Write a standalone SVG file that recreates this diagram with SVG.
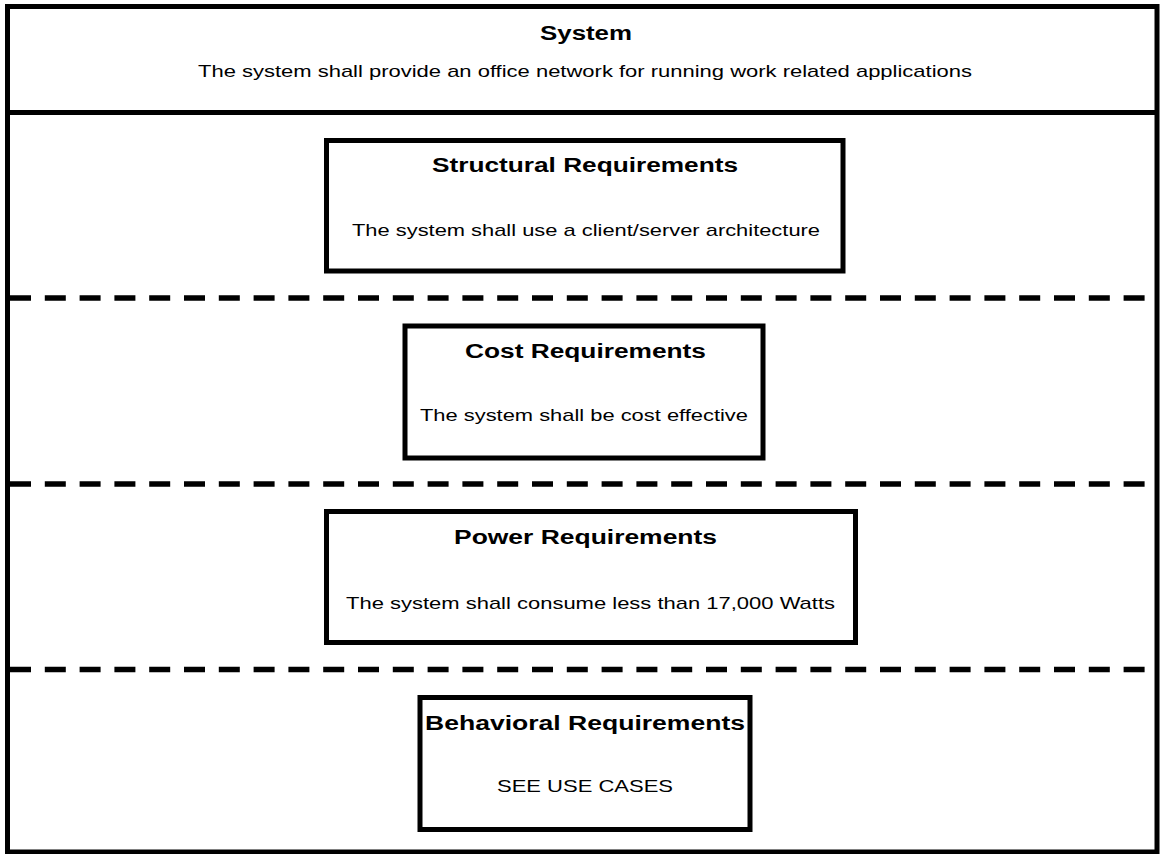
<svg xmlns="http://www.w3.org/2000/svg" width="1160" height="854" viewBox="0 0 1160 854">
<style>
  .frame { fill: #ffffff; stroke: #000000; stroke-width: 5; }
  .box { fill: #ffffff; stroke: #000000; stroke-width: 5; }
  .sep { stroke: #000000; stroke-width: 5; fill: none; }
  .dash { stroke: #000000; stroke-width: 5.5; fill: none; stroke-dasharray: 21 13.8; }
  .title { font-family: "Liberation Sans", Arial, sans-serif; font-weight: bold; font-size: 20px; fill: #000000; text-anchor: middle; }
  .body { font-family: "Liberation Sans", Arial, sans-serif; font-size: 17px; fill: #000000; text-anchor: middle; }
</style>
<rect x="0" y="0" width="1160" height="854" fill="#ffffff"/>
<g id="system">
  <rect class="frame" x="7.5" y="6.5" width="1149.5" height="845.5"/>
  <line class="sep" x1="7.5" y1="112.5" x2="1157" y2="112.5"/>
  <text class="title" x="586" y="40" textLength="92" lengthAdjust="spacingAndGlyphs">System</text>
  <text class="body" x="585" y="77" textLength="774" lengthAdjust="spacingAndGlyphs">The system shall provide an office network for running work related applications</text>
</g>
<g id="connectors">
  <line class="dash" x1="10" y1="298" x2="1157" y2="298"/>
  <line class="dash" x1="10" y1="484" x2="1157" y2="484"/>
  <line class="dash" x1="10" y1="669.5" x2="1157" y2="669.5"/>
</g>
<g id="structural">
  <rect class="box" x="326.5" y="140.5" width="516.5" height="130.5"/>
  <text class="title" x="585" y="172" textLength="306" lengthAdjust="spacingAndGlyphs">Structural Requirements</text>
  <text class="body" x="586" y="236" textLength="468" lengthAdjust="spacingAndGlyphs">The system shall use a client/server architecture</text>
</g>
<g id="cost">
  <rect class="box" x="405" y="326" width="358" height="132"/>
  <text class="title" x="585.5" y="358" textLength="241" lengthAdjust="spacingAndGlyphs">Cost Requirements</text>
  <text class="body" x="584" y="421" textLength="328" lengthAdjust="spacingAndGlyphs">The system shall be cost effective</text>
</g>
<g id="power">
  <rect class="box" x="326.5" y="511.5" width="529" height="131"/>
  <text class="title" x="585.5" y="544" textLength="263" lengthAdjust="spacingAndGlyphs">Power Requirements</text>
  <text class="body" x="590.5" y="609" textLength="489" lengthAdjust="spacingAndGlyphs">The system shall consume less than 17,000 Watts</text>
</g>
<g id="behavioral">
  <rect class="box" x="420" y="697.5" width="330" height="132"/>
  <text class="title" x="585" y="730" textLength="320" lengthAdjust="spacingAndGlyphs">Behavioral Requirements</text>
  <text class="body" x="585" y="792" textLength="176" lengthAdjust="spacingAndGlyphs">SEE USE CASES</text>
</g>
</svg>
